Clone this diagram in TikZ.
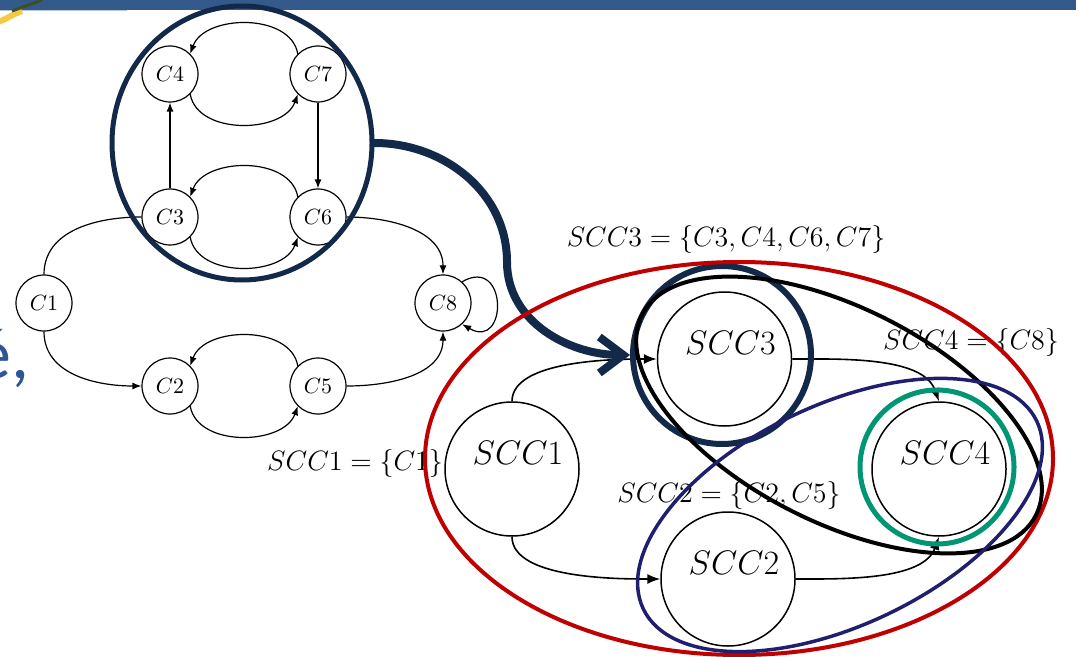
\RequirePackage{fix-cm}
\documentclass[tikz,border=0pt]{standalone}
\usepackage{amsmath}
\usepackage{fontspec}
\newfontfamily\slidefont{Carlito}
\usepackage{tikz}
\usetikzlibrary{shapes.geometric,arrows.meta}

\definecolor{grpnavy}{RGB}{18,41,74}
\definecolor{sccred}{RGB}{192,0,0}
\definecolor{sccgreen}{RGB}{0,150,115}
\definecolor{sccindigo}{RGB}{32,30,110}
\definecolor{barblue}{RGB}{51,90,138}
\definecolor{slideblue}{RGB}{47,85,151}
\definecolor{swooshyellow}{RGB}{245,200,70}
\definecolor{swooshgreen}{RGB}{60,80,40}

\begin{document}
\begin{tikzpicture}[x=0.5pt,y=0.5pt,
    cnode/.style={circle,draw,line width=0.6pt,minimum size=28pt,inner sep=0pt,font=\fontsize{11}{13}\selectfont},
    sccnode/.style={circle,draw,line width=0.75pt,minimum size=67pt,inner sep=0pt},
    scctext/.style={font=\fontsize{17}{20}\selectfont},
    setlabel/.style={font=\fontsize{14}{16}\selectfont},
    carc/.style={line width=0.6pt,-{Latex[length=4.5pt,width=3.5pt]}},
    sccarc/.style={line width=0.8pt,-{Latex[length=6.5pt,width=5pt]}}]
  \clip (0,0) rectangle (1079,-657);
  % bits of the slide
  \fill[barblue] (0,0) rectangle (1076,-10);
  \fill[barblue!35] (0,-10) rectangle (127,-11.5);
  \draw[swooshyellow,line width=3pt] (-2,-22) to[out=20,in=200] (22,-11);
  \draw[swooshgreen,line width=1.5pt] (12,-11) -- (42,0);
  \node[anchor=base west,text=slideblue,inner sep=0pt,font=\slidefont\fontsize{36}{40}\selectfont] (frag) at (-25,-378) {é,};

  % graph of components
  \node[cnode] (c4) at (170,-74) {$C4$};
  \node[cnode] (c7) at (318,-74) {$C7$};
  \node[cnode] (c3) at (170,-217) {$C3$};
  \node[cnode] (c6) at (318,-217) {$C6$};
  \node[cnode] (c1) at (44,-303) {$C1$};
  \node[cnode] (c8) at (443,-303) {$C8$};
  \node[cnode] (c2) at (170,-386) {$C2$};
  \node[cnode] (c5) at (318,-386) {$C5$};

  \draw[carc] (c7.135) to[out=100,in=70] (c4.45);
  \draw[carc] (c4.-45) to[out=-80,in=-110] (c7.-135);
  \draw[carc] (c6.135) to[out=100,in=70] (c3.45);
  \draw[carc] (c3.-45) to[out=-80,in=-110] (c6.-135);
  \draw[carc] (c3) -- (c4);
  \draw[carc] (c7) -- (c6);
  \draw[line width=0.6pt] (c1.north) to[out=90,in=180] (c3.west);
  \draw[carc] (c1.south) to[out=-90,in=180] (c2.west);
  \draw[carc] (c6.east) to[out=0,in=90] (c8.north);
  \draw[carc] (c5.east) to[out=0,in=-90] (c8.south);
  \draw[carc] (c5.135) to[out=100,in=70] (c2.45);
  \draw[carc] (c2.-45) to[out=-80,in=-110] (c5.-135);
  \draw[carc] (c8.48) to[out=30,in=-30,looseness=3.2] (c8.-48);

  \node[ellipse,draw=grpnavy,line width=2.5pt,minimum width=130pt,minimum height=137pt] (grp) at (242,-143) {};

  % labels of the components
  \node[setlabel] (l3) at (726,-240) {$SCC3=\{C3,C4,C6,C7\}$};
  \node[setlabel] (l4) at (971,-342) {$SCC4=\{C8\}$};
  \node[setlabel] (l1) at (355,-463) {$SCC1=\{C1\}$};
  \node[setlabel] (l2) at (729,-495) {$SCC2=\{C2,C5\}$};

  % condensed graph
  \node[sccnode] (s1) at (512,-469) {};
  \node[sccnode] (s3) at (724.5,-359) {};
  \node[sccnode] (s4) at (939,-469) {};
  \node[sccnode] (s2) at (728,-579) {};
  \node[scctext] (t1) at ([xshift=3pt,yshift=8pt]s1.center) {$SCC1$};
  \node[scctext] (t3) at ([xshift=3pt,yshift=8pt]s3.center) {$SCC3$};
  \node[scctext] (t4) at ([xshift=3pt,yshift=8pt]s4.center) {$SCC4$};
  \node[scctext] (t2) at ([xshift=3pt,yshift=8pt]s2.center) {$SCC2$};

  \draw[sccarc] (s1.north) to[out=90,in=180,looseness=0.7] (s3.west);
  \draw[sccarc] (s1.south) to[out=-90,in=180,looseness=0.7] (s2.west);
  \draw[sccarc] (s3.east) to[out=0,in=110,looseness=0.8] (s4.north);
  \draw[sccarc] (s2.east) to[out=0,in=-110,looseness=0.8] (s4.south);

  \node[circle,draw=grpnavy,line width=3pt,minimum size=89pt,inner sep=0pt] (s3ring) at (722,-355) {};
  \node[circle,draw=sccgreen,line width=2.5pt,minimum size=77pt,inner sep=0pt] (s4ring) at (937,-467) {};

  \coordinate (bend) at (507,-262);
  \draw[grpnavy,line width=4pt,line cap=round,-{Straight Barb[length=12pt,width=18pt]}] (grp.east) to[out=0,in=90] (bend) to[out=-90,in=180] (s3ring.west);

  % groupings
  \draw[sccred,line width=2pt] (739,-458.5) ellipse [x radius=314,y radius=196.5];
  \draw[line width=2pt,rotate around={-27:(839,-415)}] (839,-415) ellipse [x radius=221,y radius=107];
  \draw[sccindigo,line width=1.75pt,rotate around={25.5:(840,-515)}] (840,-515) ellipse [x radius=218,y radius=110];
\end{tikzpicture}
\end{document}
